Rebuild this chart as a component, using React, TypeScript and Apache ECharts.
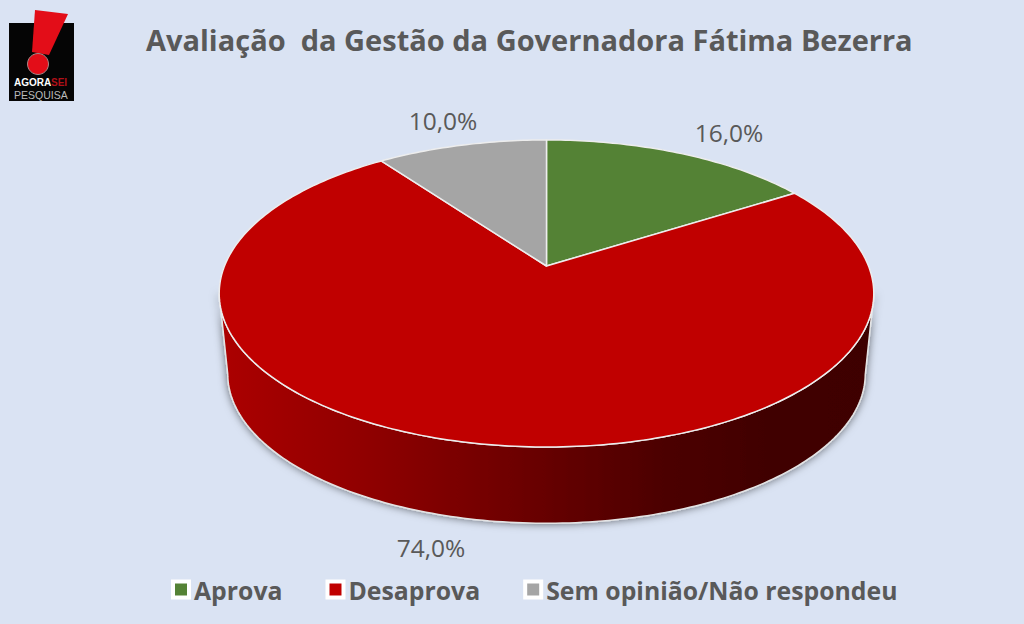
import React, { useEffect, useRef } from 'react';
import * as echarts from 'echarts';

const title = 'Avaliação  da Gestão da Governadora Fátima Bezerra';
const categories = ['Aprova', 'Desaprova', 'Sem opinião/Não respondeu'];
const values = [16, 74, 10];
const sliceColors = ['#548235', '#C00000', '#A5A5A5'];
const labelAnchors = [[729, 132], [431, 547], [443, 120]];

const textColor = '#595959';
const fontFamily = '"Open Sans", "Noto Sans", sans-serif';

// projected disc: the apex of the slices is not the centre of the drawn ellipse
const apexX = 546.5;
const apexY = 266;
const radiusX = 322;
const radiusY = 148.6;
const tilt = 0.179;
const baseY = 347;
const baseScale = 0.974;

const project = (deg: number, y0: number, scale: number) => {
  const t = (deg * Math.PI) / 180;
  const u = Math.sin(t);
  const v = -Math.cos(t);
  const d = 1 - tilt * v;
  return [apexX + (radiusX * scale * u) / d, y0 + (radiusY * scale * v) / d];
};

const arcDegrees = (from: number, to: number) => {
  const out: number[] = [];
  for (let a = from; a < to; a += 1) out.push(a);
  out.push(to);
  return out;
};

const total = values.reduce((a, b) => a + b, 0);

const renderSlice = (params: any, api: any) => {
  const i = params.seriesIndex;
  const before = values.slice(0, i).reduce((a, b) => a + b, 0);
  const from = (before / total) * 360;
  const to = ((before + api.value(0)) / total) * 360;
  const children: any[] = [];

  const front = arcDegrees(from, to).filter((a) => -Math.cos((a * Math.PI) / 180) >= tilt);
  if (front.length > 1) {
    const upper = front.map((a) => project(a, apexY, 1));
    const lower = front.map((a) => project(a, baseY, baseScale)).reverse();
    children.push({
      type: 'polygon',
      shape: { points: [...upper, ...lower] },
      style: {
        fill: new echarts.graphic.LinearGradient(0, 0, 1, 0, [
          { offset: 0, color: '#AC0000' },
          { offset: 0.25, color: '#8C0000' },
          { offset: 0.5, color: '#660000' },
          { offset: 0.68, color: '#4C0000' },
          { offset: 0.85, color: '#400000' },
          { offset: 1, color: '#3E0000' },
        ]),
        stroke: '#E4E4E4',
        lineWidth: 1.5,
        shadowBlur: 8,
        shadowColor: 'rgba(0,0,0,0.55)',
      },
    });
  }

  children.push({
    type: 'polygon',
    shape: { points: [[apexX, apexY], ...arcDegrees(from, to).map((a) => project(a, apexY, 1))] },
    style: { fill: sliceColors[i], stroke: '#EDEDED', lineWidth: 1.5, lineJoin: 'round' },
  });

  children.push({
    type: 'text',
    x: labelAnchors[i][0],
    y: labelAnchors[i][1],
    style: {
      text: api.value(0).toFixed(1).replace('.', ',') + '%',
      fill: textColor,
      fontSize: 24.5,
      fontFamily,
      textAlign: 'center',
      textVerticalAlign: 'middle',
    },
  });

  return { type: 'group', children };
};

const App = () => {
  const chartRef = useRef<HTMLDivElement>(null);

  useEffect(() => {
    const myChart = echarts.init(chartRef.current, null, { renderer: 'svg' });

    myChart.setOption({
      animation: false,
      backgroundColor: '#DAE3F3',
      title: {
        text: title,
        left: 141,
        top: 20,
        textStyle: { color: textColor, fontSize: 29, fontWeight: 'bold', fontFamily },
      },
      legend: {
        data: categories,
        left: 166,
        top: 572,
        icon: 'rect',
        itemWidth: 16,
        itemHeight: 16,
        itemGap: 43,
        selectedMode: false,
        itemStyle: { borderColor: '#FFFFFF', borderWidth: 4 },
        textStyle: { color: textColor, fontSize: 24.8, fontWeight: 'bold', fontFamily },
      },
      graphic: [
        { type: 'rect', shape: { x: 9, y: 23, width: 65, height: 78 }, style: { fill: '#050505' } },
        {
          type: 'polygon',
          shape: { points: [[35, 10], [68, 14], [49, 55], [32, 52]] },
          style: { fill: '#E30D18' },
        },
        {
          type: 'circle',
          shape: { cx: 38, cy: 64, r: 10.5 },
          style: { fill: '#E30D18', stroke: '#A88', lineWidth: 1 },
        },
        {
          type: 'text',
          x: 14,
          y: 77,
          style: { text: 'AGORA', fill: '#FFFFFF', fontSize: 10, fontWeight: 'bold', fontFamily: 'Liberation Sans' },
        },
        {
          type: 'text',
          x: 51,
          y: 77,
          style: { text: 'SEI', fill: '#B01018', fontSize: 10, fontWeight: 'bold', fontFamily: 'Liberation Sans' },
        },
        {
          type: 'text',
          x: 14,
          y: 89,
          style: { text: 'PESQUISA', fill: '#BBBBBB', fontSize: 10.5, fontFamily: 'Liberation Sans' },
        },
      ],
      series: categories.map((name, i) => ({
        type: 'custom',
        name,
        coordinateSystem: 'none',
        silent: true,
        itemStyle: { color: sliceColors[i] },
        data: [values[i]],
        renderItem: renderSlice,
      })),
    });

    return () => {
      myChart.dispose();
    };
  }, []);

  return <div ref={chartRef} style={{ position: 'absolute', left: 0, top: 0, width: 1024, height: 624 }} />;
};

export default App;
